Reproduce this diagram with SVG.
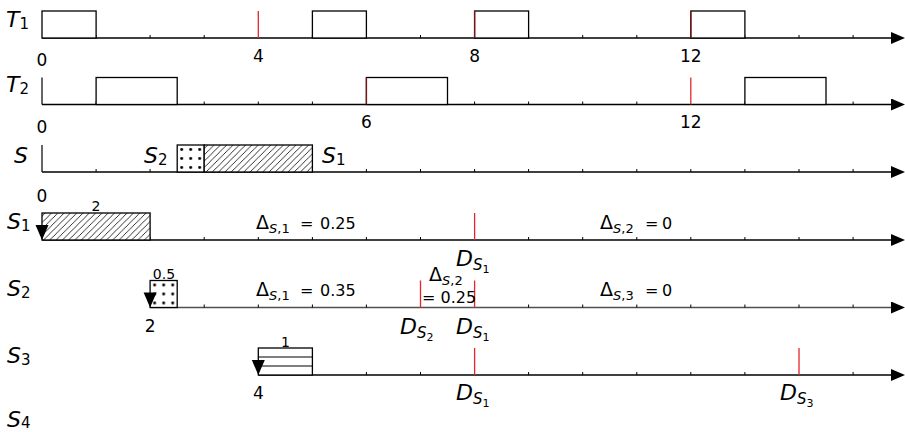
<svg xmlns="http://www.w3.org/2000/svg" width="905" height="432" viewBox="0 0 905 432">
<style>
text{font-family:"DejaVu Sans","Liberation Sans",sans-serif;fill:#000}
.num{font-size:17px;text-anchor:middle}
.rl{font-size:22px;font-style:italic}
.sb{font-size:15px;font-style:normal}
.small{font-size:14px;text-anchor:middle}
.dl{font-size:16px}
.it{font-style:italic}
.box{fill:#fff;stroke:#000;stroke-width:1.3}
.axis{stroke:#000;stroke-width:1.4;fill:none;marker-end:url(#ah)}
.axis2{stroke:#505050;stroke-width:1.6;fill:none;marker-end:url(#ah)}
.tick{stroke:#000;stroke-width:1}
.red{stroke:#e3262b;stroke-width:1.3}
.dred{stroke:#7d1414;stroke-width:1.3}
.vline{stroke:#000;stroke-width:1.2}
.hat{fill:url(#hatch);stroke:#000;stroke-width:1.3}
.dot{fill:url(#dots);stroke:#000;stroke-width:1.3}
</style>
<defs>
<marker id="ah" markerWidth="14" markerHeight="12" refX="0" refY="6" orient="auto" markerUnits="userSpaceOnUse">
<path d="M0,0 L14,6 L0,12 Z" fill="#000"/>
</marker>
<pattern id="hatch" patternUnits="userSpaceOnUse" width="6.3" height="6.3">
<rect width="6.3" height="6.3" fill="#fff"/>
<path d="M-1,1 L1,-1 M0,6.3 L6.3,0 M5.3,7.3 L7.3,5.3" stroke="#000" stroke-width="0.8"/>
</pattern>
<pattern id="dots" patternUnits="objectBoundingBox" width="0.3333" height="0.3333" patternContentUnits="objectBoundingBox">
<rect width="0.3333" height="0.3333" fill="#fff"/>
<circle cx="0.1667" cy="0.1667" r="0.055" fill="#000"/>
</pattern>
<path id="rel" d="M-6.5,-15 L6.5,-15 L0,0 Z" fill="#000"/>
</defs>

<g id="connectors">
<path class="axis" d="M42,38 H891"/>
<path class="axis" d="M42,104.5 H891"/>
<path class="axis" d="M42,172 H891"/>
<path class="axis" d="M42,240 H891"/>
<path class="axis2" d="M150.1,307.5 H891"/>
<path class="axis" d="M258.3,375 H891"/>
<path class="vline" d="M42,77.5 V104.5 M42,145 V172"/>
<g class="tick">
<path d="M96.1,38 v-3 M150.1,38 v-3 M204.2,38 v-3 M312.4,38 v-3 M366.4,38 v-3 M420.5,38 v-3 M528.6,38 v-3 M582.7,38 v-3 M636.8,38 v-3 M744.9,38 v-3 M799,38 v-3 M853.1,38 v-3"/>
<path d="M96.1,104.5 v-3 M150.1,104.5 v-3 M204.2,104.5 v-3 M258.3,104.5 v-3 M312.4,104.5 v-3 M420.5,104.5 v-3 M474.6,104.5 v-3 M528.6,104.5 v-3 M582.7,104.5 v-3 M636.8,104.5 v-3 M744.9,104.5 v-3 M799,104.5 v-3 M853.1,104.5 v-3"/>
<path d="M96.1,172 v-3 M150.1,172 v-3 M204.2,172 v-3 M258.3,172 v-3 M312.4,172 v-3 M366.4,172 v-3 M420.5,172 v-3 M474.6,172 v-3 M528.6,172 v-3 M582.7,172 v-3 M636.8,172 v-3 M690.8,172 v-3 M744.9,172 v-3 M799,172 v-3 M853.1,172 v-3"/>
<path d="M96.1,240 v-3 M150.1,240 v-3 M204.2,240 v-3 M258.3,240 v-3 M312.4,240 v-3 M366.4,240 v-3 M420.5,240 v-3 M528.6,240 v-3 M582.7,240 v-3 M636.8,240 v-3 M690.8,240 v-3 M744.9,240 v-3 M799,240 v-3 M853.1,240 v-3"/>
<path d="M204.2,307.5 v-3 M258.3,307.5 v-3 M312.4,307.5 v-3 M366.4,307.5 v-3 M528.6,307.5 v-3 M582.7,307.5 v-3 M636.8,307.5 v-3 M690.8,307.5 v-3 M744.9,307.5 v-3 M799,307.5 v-3 M853.1,307.5 v-3"/>
<path d="M366.4,375 v-3 M420.5,375 v-3 M528.6,375 v-3 M582.7,375 v-3 M636.8,375 v-3 M690.8,375 v-3 M744.9,375 v-3 M853.1,375 v-3"/>
</g>
</g>

<g id="row-T1">
<text class="rl" x="6" y="27">T<tspan class="sb" dy="2">1</tspan></text>
<rect class="box" x="42" y="11" width="54.1" height="27"/>
<rect class="box" x="312.4" y="11" width="54" height="27"/>
<rect class="box" x="474.6" y="11" width="54" height="27"/>
<rect class="box" x="690.8" y="11" width="54.1" height="27"/>
<path class="red" d="M258.3,11 V38"/>
<path class="dred" d="M474.6,11 V38 M690.8,11 V38"/>
<text class="num" x="42" y="66">0</text>
<text class="num" x="258.3" y="62">4</text>
<text class="num" x="474.6" y="62">8</text>
<text class="num" x="690.8" y="62">12</text>
</g>

<g id="row-T2">
<text class="rl" x="6" y="92">T<tspan class="sb" dy="2">2</tspan></text>
<rect class="box" x="96.1" y="77.5" width="81.1" height="27"/>
<rect class="box" x="366.4" y="77.5" width="81.1" height="27"/>
<rect class="box" x="744.9" y="77.5" width="81.1" height="27"/>
<path class="dred" d="M366.4,77.5 V104.5"/>
<path class="red" d="M690.8,77.5 V104.5"/>
<text class="num" x="42" y="133">0</text>
<text class="num" x="366.4" y="128">6</text>
<text class="num" x="690.8" y="128">12</text>
</g>

<g id="row-S">
<text class="rl" x="14" y="163">S</text>
<rect class="dot" x="177.2" y="145" width="27" height="27"/>
<rect class="hat" x="204.2" y="145" width="108.2" height="27"/>
<text class="rl" x="144" y="163">S<tspan class="sb" dy="2">2</tspan></text>
<text class="rl" x="322" y="163">S<tspan class="sb" dy="2">1</tspan></text>
<text class="num" x="42" y="202">0</text>
</g>

<g id="row-S1">
<text class="rl" x="7" y="229">S<tspan class="sb" dy="2">1</tspan></text>
<rect class="hat" x="42" y="213" width="108.1" height="27"/>
<use href="#rel" x="42" y="240"/>
<text class="small" x="96" y="211">2</text>
<path class="red" d="M474.6,213 V240"/>
<text class="dl" x="256" y="229"><tspan font-size="19">Δ</tspan><tspan font-size="13" dy="4"><tspan class="it">S</tspan>,1</tspan><tspan x="300" dy="-4">=</tspan><tspan x="320">0.25</tspan></text>
<text class="dl" x="600" y="229"><tspan font-size="19">Δ</tspan><tspan font-size="13" dy="4"><tspan class="it">S</tspan>,2</tspan><tspan x="645" dy="-4">=</tspan><tspan x="662">0</tspan></text>
<text class="rl" x="456" y="266">D<tspan font-size="15" dy="4">S</tspan><tspan font-size="11" font-style="normal" dy="3">1</tspan></text>
</g>

<g id="row-S2">
<text class="rl" x="7" y="296">S<tspan class="sb" dy="2">2</tspan></text>
<rect class="dot" x="150.1" y="280.5" width="27.1" height="27"/>
<use href="#rel" x="150.1" y="307.5"/>
<text class="small" x="164" y="278.5">0.5</text>
<path class="red" d="M420.5,280.5 V307.5 M474.6,280.5 V307.5"/>
<text class="dl" x="256" y="296"><tspan font-size="19">Δ</tspan><tspan font-size="13" dy="4"><tspan class="it">S</tspan>,1</tspan><tspan x="300" dy="-4">=</tspan><tspan x="320">0.35</tspan></text>
<text class="dl" x="429" y="281"><tspan font-size="19">Δ</tspan><tspan font-size="13" dy="4"><tspan class="it">S</tspan>,2</tspan></text>
<text class="dl" x="422" y="303">= 0.25</text>
<text class="dl" x="600" y="296"><tspan font-size="19">Δ</tspan><tspan font-size="13" dy="4"><tspan class="it">S</tspan>,3</tspan><tspan x="645" dy="-4">=</tspan><tspan x="662">0</tspan></text>
<text class="num" x="150.1" y="332">2</text>
<text class="rl" x="400" y="334">D<tspan font-size="15" dy="4">S</tspan><tspan font-size="11" font-style="normal" dy="3">2</tspan></text>
<text class="rl" x="456" y="334">D<tspan font-size="15" dy="4">S</tspan><tspan font-size="11" font-style="normal" dy="3">1</tspan></text>
</g>

<g id="row-S3">
<text class="rl" x="7" y="363">S<tspan class="sb" dy="2">3</tspan></text>
<rect class="box" x="258.3" y="348" width="54.1" height="27"/>
<path class="vline" d="M258.3,357 H312.4 M258.3,366 H312.4"/>
<use href="#rel" x="258.3" y="375"/>
<text class="small" x="285.4" y="346.5">1</text>
<path class="red" d="M474.6,348 V375 M799,348 V375"/>
<text class="num" x="258.3" y="399">4</text>
<text class="rl" x="456" y="400">D<tspan font-size="15" dy="4">S</tspan><tspan font-size="11" font-style="normal" dy="3">1</tspan></text>
<text class="rl" x="780" y="400">D<tspan font-size="15" dy="4">S</tspan><tspan font-size="11" font-style="normal" dy="3">3</tspan></text>
</g>

<g id="row-S4">
<text class="rl" x="7" y="427">S<tspan class="sb" dy="1">4</tspan></text>
</g>
</svg>
